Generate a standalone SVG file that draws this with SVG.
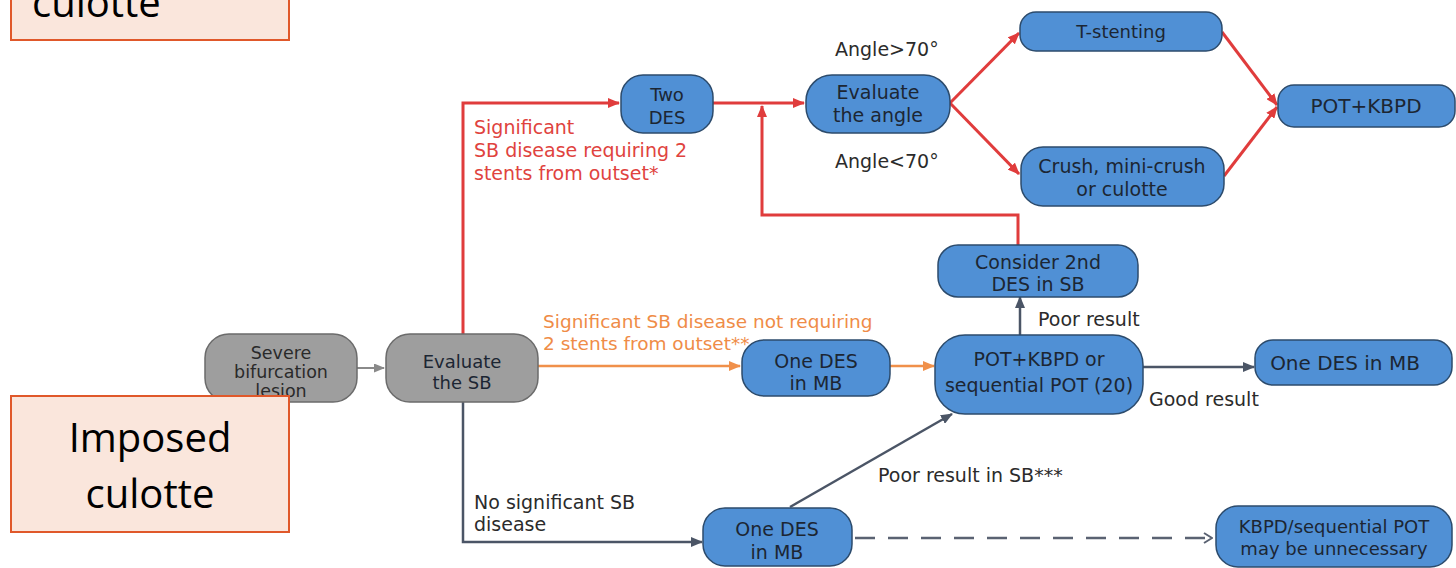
<svg xmlns="http://www.w3.org/2000/svg" width="1456" height="568" viewBox="0 0 1456 568">
<defs>
<style>
.bg{fill:#ffffff}
.blue{fill:#5090d5;stroke:#2c4b6c;stroke-width:1.5}
.gray{fill:#9e9e9e;stroke:#6b6b6b;stroke-width:1.5}
.call{fill:#fae6dc;stroke:#e0582a;stroke-width:2}
.t{font-family:"DejaVu Sans","Liberation Sans",sans-serif;font-size:19px;fill:#1c2633;text-anchor:middle}
.tg{font-family:"DejaVu Sans","Liberation Sans",sans-serif;font-size:17.5px;fill:#2a2a2a;text-anchor:middle}
.lb{font-family:"DejaVu Sans","Liberation Sans",sans-serif;font-size:19px;fill:#2b2b2b}
.lr{font-family:"DejaVu Sans","Liberation Sans",sans-serif;font-size:19px;fill:#e0433e}
.lo{font-family:"DejaVu Sans","Liberation Sans",sans-serif;font-size:18.5px;fill:#ef8c47}
.ct{font-family:"Open Sans","Noto Sans",sans-serif;font-size:40px;fill:#000000;text-anchor:middle}
.red{fill:none;stroke:#e03c3c;stroke-width:3}
.org{fill:none;stroke:#f0904a;stroke-width:2.5}
.sl{fill:none;stroke:#4b5566;stroke-width:2.5}
.lg{fill:none;stroke:#8a8a8a;stroke-width:2}
.dash{fill:none;stroke:#5a6272;stroke-width:2.5;stroke-dasharray:20 13}
</style>
<marker id="mr" markerUnits="userSpaceOnUse" markerWidth="12" markerHeight="10" refX="11" refY="5" orient="auto"><path d="M0,0 L12,5 L0,10 z" fill="#e03c3c"/></marker>
<marker id="mo" markerUnits="userSpaceOnUse" markerWidth="12" markerHeight="10" refX="11" refY="5" orient="auto"><path d="M0,0 L12,5 L0,10 z" fill="#f0904a"/></marker>
<marker id="ms" markerUnits="userSpaceOnUse" markerWidth="12" markerHeight="10" refX="11" refY="5" orient="auto"><path d="M0,0 L12,5 L0,10 z" fill="#4b5566"/></marker>
<marker id="mg" markerUnits="userSpaceOnUse" markerWidth="11" markerHeight="9" refX="10" refY="4.5" orient="auto"><path d="M0,0 L11,4.5 L0,9 z" fill="#8a8a8a"/></marker>
<marker id="mc" markerUnits="userSpaceOnUse" markerWidth="10" markerHeight="12" refX="9" refY="6" orient="auto"><path d="M1,1 L9,6 L1,11" fill="none" stroke="#5a6272" stroke-width="2"/></marker>
</defs>
<rect class="bg" x="0" y="0" width="1456" height="568"/>

<g id="connectors">
<line class="lg" x1="357" y1="368" x2="384" y2="368" marker-end="url(#mg)"/>
<polyline class="red" points="463,334 463,103 619,103" marker-end="url(#mr)"/>
<line class="red" x1="713" y1="103" x2="804" y2="103" marker-end="url(#mr)"/>
<line class="red" x1="950" y1="103" x2="1019" y2="33" marker-end="url(#mr)"/>
<line class="red" x1="950" y1="103" x2="1019" y2="174" marker-end="url(#mr)"/>
<line class="red" x1="1222" y1="32" x2="1277" y2="105" marker-end="url(#mr)"/>
<line class="red" x1="1224" y1="176" x2="1277" y2="107" marker-end="url(#mr)"/>
<polyline class="red" points="1018,245 1018,215 762,215 762,106" marker-end="url(#mr)"/>
<line class="org" x1="538" y1="366" x2="740" y2="366" marker-end="url(#mo)"/>
<line class="org" x1="890" y1="366" x2="934" y2="366" marker-end="url(#mo)"/>
<polyline class="sl" points="463,402 463,542 702,542" marker-end="url(#ms)"/>
<line class="sl" x1="790" y1="507" x2="952" y2="414" marker-end="url(#ms)"/>
<line class="sl" x1="1020" y1="335" x2="1020" y2="297" marker-end="url(#ms)"/>
<line class="sl" x1="1143" y1="367" x2="1254" y2="367" marker-end="url(#ms)"/>
<line class="dash" x1="855" y1="538" x2="1212" y2="538" marker-end="url(#mc)"/>
</g>

<g id="labels">
<text class="lb" x="835" y="56">Angle&gt;70°</text>
<text class="lb" x="835" y="168">Angle&lt;70°</text>
<text class="lr" x="474" y="134">Significant</text>
<text class="lr" x="474" y="157">SB disease requiring 2</text>
<text class="lr" x="474" y="180">stents from outset*</text>
<text class="lo" x="543" y="328">Significant SB disease not requiring</text>
<text class="lo" x="543" y="350">2 stents from outset**</text>
<text class="lb" x="474" y="509">No significant SB</text>
<text class="lb" x="474" y="531">disease</text>
<text class="lb" x="878" y="482">Poor result in SB***</text>
<text class="lb" x="1038" y="326">Poor result</text>
<text class="lb" x="1149" y="406">Good result</text>
</g>

<g id="n-severe">
<rect class="gray" x="205" y="334" width="152" height="68" rx="24"/>
<text class="tg" x="281" y="359">Severe</text>
<text class="tg" x="281" y="378">bifurcation</text>
<text class="tg" x="281" y="397">lesion</text>
</g>
<g id="n-evalsb">
<rect class="gray" x="386" y="334" width="152" height="68" rx="24"/>
<text class="t" x="462" y="368" style="font-size:18px">Evaluate</text>
<text class="t" x="462" y="389" style="font-size:18px">the SB</text>
</g>
<g id="n-twodes">
<rect class="blue" x="621" y="75" width="92" height="58" rx="22"/>
<text class="t" x="667" y="101" style="font-size:18px">Two</text>
<text class="t" x="667" y="124" style="font-size:18px">DES</text>
</g>
<g id="n-evalangle">
<rect class="blue" x="806" y="75" width="144" height="58" rx="26"/>
<text class="t" x="878" y="99">Evaluate</text>
<text class="t" x="878" y="122">the angle</text>
</g>
<g id="n-tstent">
<rect class="blue" x="1020" y="12" width="202" height="39" rx="16"/>
<text class="t" x="1121" y="38" style="font-size:18px">T-stenting</text>
</g>
<g id="n-crush">
<rect class="blue" x="1021" y="147" width="203" height="59" rx="22"/>
<text class="t" x="1122" y="173">Crush, mini-crush</text>
<text class="t" x="1122" y="196">or culotte</text>
</g>
<g id="n-potkbpd">
<rect class="blue" x="1278" y="85" width="177" height="42" rx="16"/>
<text class="t" x="1366" y="113" style="font-size:20px">POT+KBPD</text>
</g>
<g id="n-consider">
<rect class="blue" x="938" y="245" width="200" height="52" rx="20"/>
<text class="t" x="1038" y="269">Consider 2nd</text>
<text class="t" x="1038" y="291">DES in SB</text>
</g>
<g id="n-onedes-mid">
<rect class="blue" x="742" y="340" width="148" height="56" rx="22"/>
<text class="t" x="816" y="368">One DES</text>
<text class="t" x="816" y="390">in MB</text>
</g>
<g id="n-pot">
<rect class="blue" x="935" y="335" width="208" height="79" rx="30"/>
<text class="t" x="1039" y="366">POT+KBPD or</text>
<text class="t" x="1039" y="392">sequential POT (20)</text>
</g>
<g id="n-onedes-right">
<rect class="blue" x="1255" y="340" width="197" height="45" rx="18"/>
<text class="t" x="1345" y="370" style="font-size:20px">One DES in MB</text>
</g>
<g id="n-onedes-bot">
<rect class="blue" x="703" y="508" width="149" height="58" rx="22"/>
<text class="t" x="777" y="536">One DES</text>
<text class="t" x="777" y="559">in MB</text>
</g>
<g id="n-kbpd">
<rect class="blue" x="1216" y="506" width="236" height="61" rx="22"/>
<text class="t" x="1334" y="533" style="font-size:18px">KBPD/sequential POT</text>
<text class="t" x="1334" y="555" style="font-size:18px">may be unnecessary</text>
</g>

<g id="callout-top">
<rect class="call" x="11" y="-20" width="278" height="60"/>
<text class="ct" x="32" y="17" style="text-anchor:start">culotte</text>
</g>
<g id="callout-bottom">
<rect class="call" x="11" y="396" width="278" height="136"/>
<text class="ct" x="150" y="452">Imposed</text>
<text class="ct" x="150" y="508">culotte</text>
</g>
</svg>
